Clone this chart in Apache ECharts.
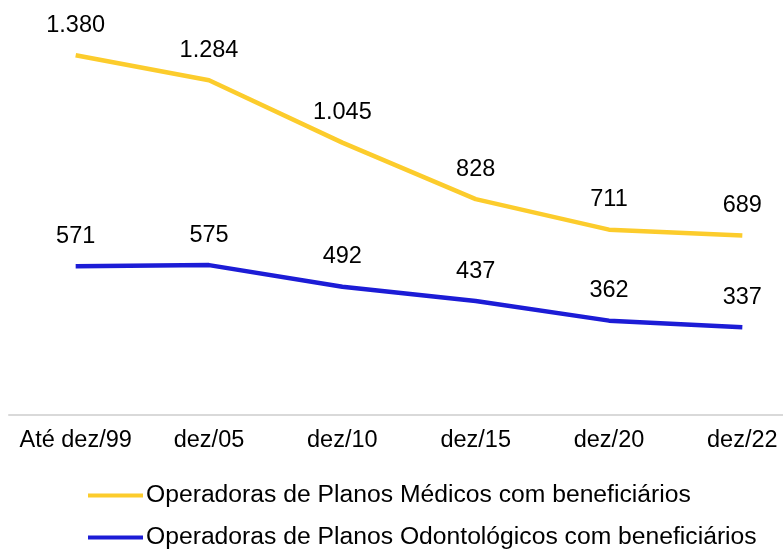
<!DOCTYPE html>
<html><head><meta charset="utf-8">
<script src="https://cdn.jsdelivr.net/npm/echarts@6/dist/echarts.min.js"></script>
<style>html,body{margin:0;padding:0;background:#fff}#c{width:783px;height:550px}</style>
</head><body><div id="c"></div>
<script>
const categories = ['Até dez/99','dez/05','dez/10','dez/15','dez/20','dez/22'];
const medicos = [1380,1284,1045,828,711,689];
const odonto = [571,575,492,437,362,337];
const nameMed = 'Operadoras de Planos Médicos com beneficiários';
const nameOdo = 'Operadoras de Planos Odontológicos com beneficiários';
const fmt = v => String(v).replace(/\B(?=(\d{3})+(?!\d))/g, '.');
const font = 'Liberation Sans, Arial, sans-serif';
const chart = echarts.init(document.getElementById('c'));
const lbl = {show:true,position:'top',distance:18,fontSize:23.5,color:'#000',fontFamily:font,formatter:p=>fmt(p.value)};
chart.setOption({
  animation:false,
  textStyle:{fontFamily:font},
  grid:{left:9,width:800,top:24,bottom:135,outerBoundsMode:'none',containLabel:false},
  xAxis:{type:'category',data:categories,boundaryGap:true,
    axisLine:{lineStyle:{color:'#d9d9d9',width:2}},axisTick:{show:false},
    axisLabel:{color:'#000',fontSize:23.5,fontFamily:font,margin:14,interval:0}},
  yAxis:{type:'value',min:0,max:1500,show:false,splitLine:{show:false}},
  legend:{orient:'vertical',left:88,top:483,padding:0,itemWidth:55,itemHeight:4,itemGap:17,icon:'rect',
    textStyle:{color:'#000',fontSize:24.7,fontFamily:font,lineHeight:24,padding:[0,0,0,-2]},
    data:[nameMed,nameOdo]},
  series:[
    {name:nameMed,type:'line',data:medicos,symbol:'circle',symbolSize:0,showSymbol:true,lineStyle:{width:4.5,color:'#FCCC2C'},itemStyle:{color:'#FCCC2C'},label:lbl},
    {name:nameOdo,type:'line',data:odonto,symbol:'circle',symbolSize:0,showSymbol:true,lineStyle:{width:4.5,color:'#1C1CD6'},itemStyle:{color:'#1C1CD6'},label:lbl}
  ]
});
</script></body></html>
